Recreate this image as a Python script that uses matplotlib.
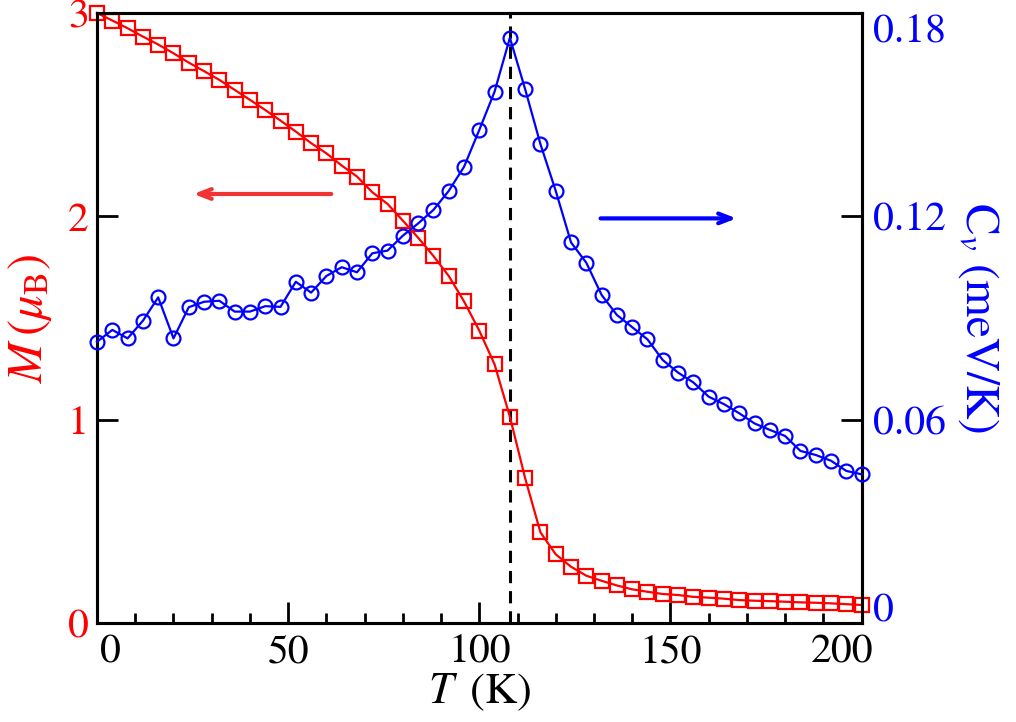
import numpy as np
import matplotlib
matplotlib.use("Agg")
import matplotlib.pyplot as plt
import matplotlib.transforms as mtransforms
from matplotlib.ticker import MultipleLocator

plt.rcParams['font.family'] = 'STIXGeneral'
plt.rcParams['mathtext.fontset'] = 'stix'

# temperature grid, 4 K steps
T = np.arange(0, 201, 4)

# magnetization (mu_B)
M = [3.000, 2.963, 2.925, 2.884, 2.845, 2.802, 2.756, 2.714, 2.671, 2.622,
     2.573, 2.523, 2.471, 2.417, 2.360, 2.310, 2.250, 2.196, 2.119, 2.061,
     1.979, 1.895, 1.805, 1.707, 1.582, 1.438, 1.272, 1.015, 0.712, 0.446,
     0.338, 0.277, 0.233, 0.208, 0.185, 0.166, 0.154, 0.143, 0.138, 0.129,
     0.125, 0.120, 0.113, 0.110, 0.108, 0.105, 0.102, 0.100, 0.097, 0.093,
     0.089]

# specific heat (meV/K)
Cv = [0.0830, 0.0865, 0.0840, 0.0892, 0.0961, 0.0840, 0.0932, 0.0948, 0.0951, 0.0919,
      0.0919, 0.0935, 0.0933, 0.1007, 0.0975, 0.1024, 0.1050, 0.1035, 0.1091, 0.1099,
      0.1143, 0.1179, 0.1219, 0.1275, 0.1346, 0.1455, 0.1568, 0.1727, 0.1575, 0.1413,
      0.1275, 0.1123, 0.1063, 0.0968, 0.0909, 0.0873, 0.0837, 0.0776, 0.0739, 0.0710,
      0.0668, 0.0646, 0.0619, 0.0589, 0.0570, 0.0552, 0.0508, 0.0496, 0.0479, 0.0449,
      0.0439]

Tc = 108

xticks = [0, 50, 100, 150, 200]
mticks = [0, 1, 2, 3]
cticks = [0, 0.06, 0.12, 0.18]
cticklabels = ['0', '0.06', '0.12', '0.18']

fig = plt.figure(figsize=(10.16, 7.22), dpi=100)
ax = fig.add_axes([0.0955, 0.137, 0.7525, 0.845])
ax2 = ax.twinx()

ax.plot(T, M, '-s', color='red', lw=1.6, ms=9.5, mfc='none', mew=1.6, clip_on=False, zorder=3)
ax2.plot(T, Cv, '-o', color='blue', lw=1.6, ms=10, mfc='none', mew=1.6, clip_on=False, zorder=3)
ax.axvline(Tc, color='black', ls=(0, (4, 2.6)), lw=2.2, zorder=1)

ax.set_xlim(0, 200)
ax.set_ylim(0, 3)
ax2.set_ylim(0, 0.18)

ax.set_xticks(xticks)
ax.set_xticklabels([str(v) for v in xticks])
ax.xaxis.set_minor_locator(MultipleLocator(10))
ax.set_yticks(mticks)
ax.set_yticklabels([str(v) for v in mticks])
ax2.set_yticks(cticks)
ax2.set_yticklabels(cticklabels)

for a in (ax, ax2):
    for s in a.spines.values():
        s.set_linewidth(2.2)
ax.tick_params(axis='x', which='major', direction='in', length=15, width=2, labelsize=30, pad=8, top=False)
ax.tick_params(axis='x', which='minor', direction='in', length=7, width=2, top=False)
ax.tick_params(axis='y', direction='in', length=15, width=2, labelsize=30, colors='black',
               labelcolor='red', pad=6)
ax2.tick_params(axis='y', direction='in', length=15, width=2, labelsize=30, colors='black',
                labelcolor='blue', pad=8)

# nudge the end labels inward like the original
def shift(label, dx, dy):
    off = mtransforms.ScaledTranslation(dx / 100, dy / 100, fig.dpi_scale_trans)
    label.set_transform(label.get_transform() + off)

xl = ax.get_xticklabels()
shift(xl[0], 13, 0)
shift(xl[-1], -19, 0)
cl = ax2.get_yticklabels()
shift(cl[0], 0, 16)
shift(cl[-1], 0, -15)

ax.set_xlabel(r'$T\,$ (K)', fontsize=32, labelpad=0)
ax.set_ylabel(r'$M\,(\mu_{\rm B})$', fontsize=35, color='red', labelpad=10)
ax2.set_ylabel(r'C$_v$ (meV/K)', fontsize=34, color='blue', rotation=-90, labelpad=40)

ax.annotate('', xy=(24.5, 2.11), xytext=(62, 2.11),
            arrowprops=dict(arrowstyle='->,head_length=0.9,head_width=0.35', color='#f03333', lw=3))
ax.annotate('', xy=(168, 1.99), xytext=(131, 1.99),
            arrowprops=dict(arrowstyle='->,head_length=0.9,head_width=0.35', color='blue', lw=3))

fig.savefig('out.png', dpi=100)
